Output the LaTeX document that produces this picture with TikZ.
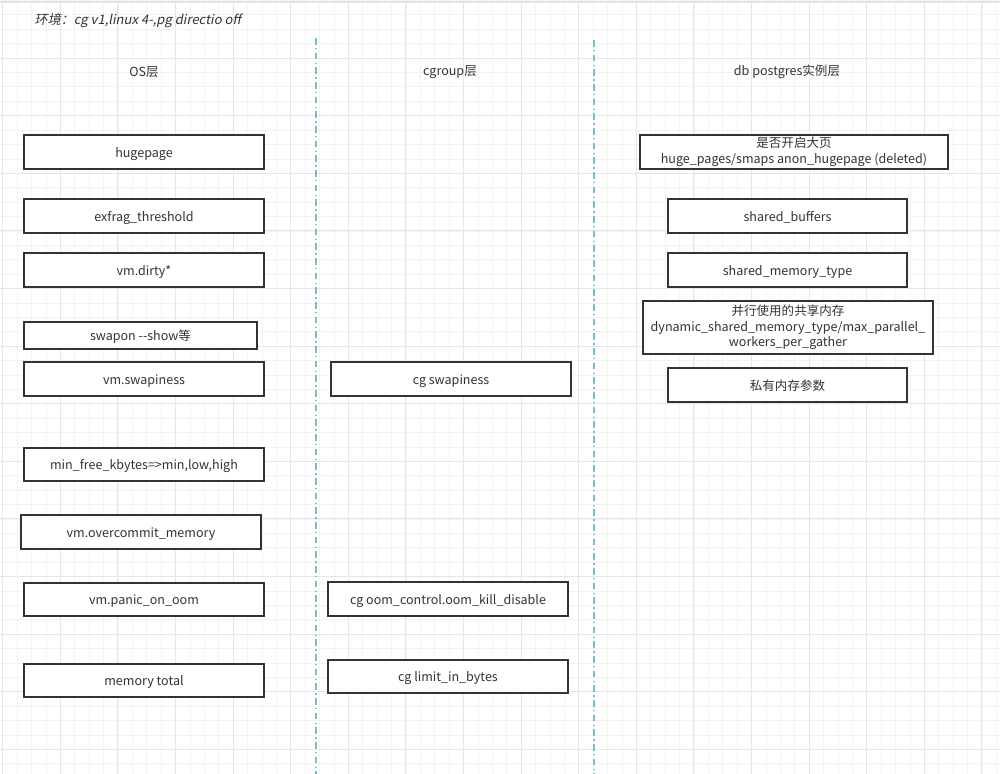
\documentclass[tikz,border=0pt]{standalone}
\usepackage{fontspec}
\setmainfont{Noto Sans CJK SC}[AutoFakeSlant=0.2]
\usetikzlibrary{positioning}
\definecolor{gridminor}{RGB}{243,243,243}
\definecolor{gridmajor}{RGB}{230,230,230}
\definecolor{sepline}{RGB}{110,195,200}
\definecolor{boxline}{RGB}{51,51,51}
\tikzset{
    box/.style={draw=boxline, line width=1pt, fill=white, align=center, text=boxline, inner sep=0pt,
        minimum width=180pt, minimum height=25.5pt, font=\fontsize{9.4}{11.6}\selectfont,
        text height=0.85em, text depth=0.1em},
    multibox/.style={box, text height={}, text depth={}},
    header/.style={text=boxline, font=\fontsize{9.4}{11}\selectfont},
    separator/.style={sepline, line width=0.8pt, dash pattern=on 5pt off 2.5pt on 1pt off 2.5pt}
}

\begin{document}
\begin{tikzpicture}[x=0.75pt, y=-0.75pt]
        \useasboundingbox (0,0) rectangle (1000,774);
        \fill[white] (0,0) rectangle (1000,774);
        \fill[gray!20] (0,0) rectangle (1000,3);

        % background grid
        \foreach \i in {0,...,69} {
            \draw[gridminor, line width=0.6pt] ({2.7+14.4*\i},3) -- ({2.7+14.4*\i},774);
        }
        \foreach \j in {0,...,53} {
            \draw[gridminor, line width=0.6pt] (0,{0.5+14.4*\j}) -- (1000,{0.5+14.4*\j});
        }
        \foreach \i in {0,...,17} {
            \draw[gridmajor, line width=0.8pt] ({2.7+57.6*\i},3) -- ({2.7+57.6*\i},774);
        }
        \foreach \j in {1,...,13} {
            \draw[gridmajor, line width=0.8pt] (0,{0.5+57.6*\j}) -- (1000,{0.5+57.6*\j});
        }

        % title and layer headers
        \node [anchor=west, text=boxline, font=\fontsize{9.8}{11}\selectfont\itshape] (env) at (30,21) {环境：cg v1,linux 4-,pg directio off};
        \node [header] (os) at (144,72) {OS层};
        \node [header] (cg) at (450,72) {cgroup层};
        \node [header] (db) at (787,72) {db postgres实例层};

        % separators
        \coordinate (sepA top) at (316,38);
        \coordinate (sepA bot) at (316,774);
        \coordinate (sepB top) at (594,40);
        \coordinate (sepB bot) at (594,774);
        \draw [separator] (sepA top) -- (sepA bot);
        \draw [separator] (sepB top) -- (sepB bot);

        % OS column
        \node [box] (hugepage) at (144,152) {hugepage};
        \node [box] (exfrag) at (144,216) {exfrag\_threshold};
        \node [box] (dirty) at (144,270) {vm.dirty*};
        \node [box, minimum width=174.75pt, minimum height=20.25pt] (swapon) at (140.5,335.5) {swapon {-}{-}show等};
        \node [box] (swapiness) at (144,379) {vm.swapiness};
        \node [box, minimum height=24.75pt] (minfree) at (144,464.5) {min\_free\_kbytes=>min,low,high};
        \node [box] (overcommit) at (141,532) {vm.overcommit\_memory};
        \node [box, minimum height=24.75pt] (panic) at (144,599.5) {vm.panic\_on\_oom};
        \node [box, minimum height=24.75pt] (memtotal) at (144,680.5) {memory total};

        % cgroup column
        \node [box] (cgswap) at (451,379) {cg swapiness};
        \node [box, minimum height=25.5pt] (cgoom) at (448,599) {cg oom\_control.oom\_kill\_disable};
        \node [box, minimum height=24.75pt] (cglimit) at (448,676.5) {cg limit\_in\_bytes};

        % postgres column
        \node [multibox, minimum width=231pt] (hugepages) at (794,152) {是否开启大页\\huge\_pages/smaps anon\_hugepage (deleted)};
        \node [box, minimum width=179.25pt] (sharedbuf) at (787.5,216) {shared\_buffers};
        \node [box, minimum width=179.25pt] (shmtype) at (787.5,270) {shared\_memory\_type};
        \node [multibox, minimum width=217.5pt, minimum height=39.75pt] (dsm) at (788,327.5) {并行使用的共享内存\\dynamic\_shared\_memory\_type/max\_parallel\_\\workers\_per\_gather};
        \node [box, minimum width=179.25pt] (private) at (787.5,385) {私有内存参数};
    \end{tikzpicture}
\end{document}
